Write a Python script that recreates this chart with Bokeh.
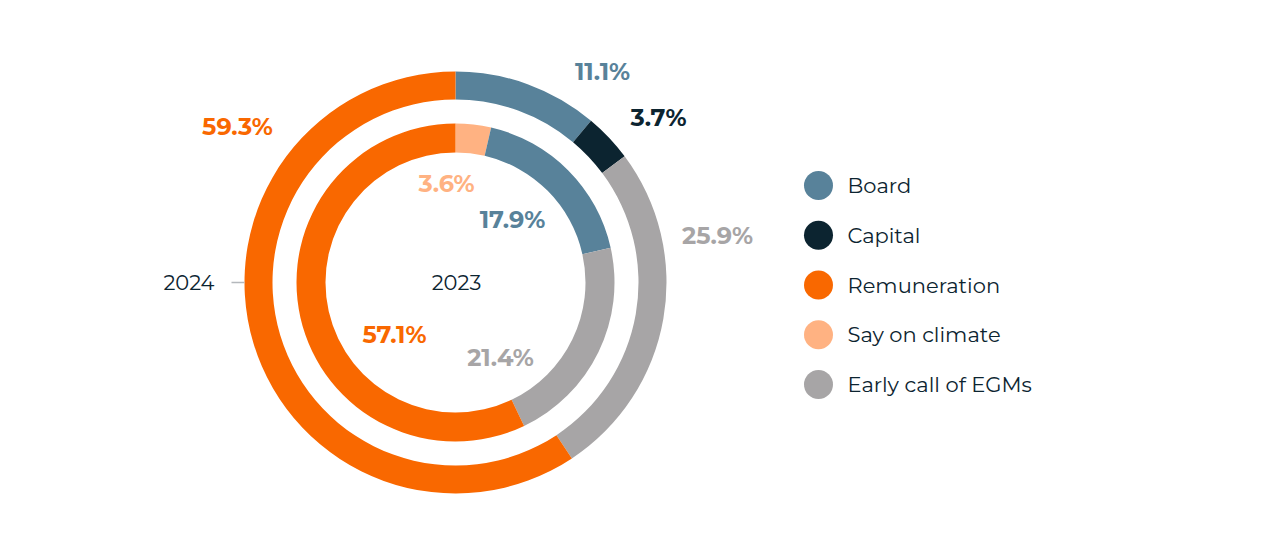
import math
from bokeh.plotting import figure
from bokeh.models import Range1d, ColumnDataSource
from bokeh.core.properties import value
from bokeh.embed import file_html
from bokeh.resources import INLINE

# ---- data ----
categories = ["Board", "Capital", "Remuneration", "Say on climate", "Early call of EGMs"]
colors = ["#58829a", "#0c2430", "#f96800", "#ffb282", "#a7a5a6"]

# 2024 (outer ring), clockwise from 12 o'clock
outer_cats = ["Board", "Capital", "Early call of EGMs", "Remuneration"]
outer_vals = [11.1, 3.7, 25.9, 59.3]
# 2023 (inner ring), clockwise from 12 o'clock
inner_cats = ["Say on climate", "Board", "Early call of EGMs", "Remuneration"]
inner_vals = [3.6, 17.9, 21.4, 57.1]

year_outer = "2024"
year_inner = "2023"

# ---- layout (pixels, page coordinates) ----
W, H = 1264, 532
FONT = "Montserrat, Inter"
TEXT_DARK = "#0c2430"
cx, cy = 455, H - 282
outer_r = (183, 211)
inner_r = (130, 159)
# label anchor (page px) for each slice
outer_label_pos = [(602, 71), (658, 117), (717, 235), (237, 126)]
inner_label_pos = [(446, 183), (512, 219), (500, 357), (394, 334)]

cmap = dict(zip(categories, colors))

p = figure(width=W, height=H, output_backend="svg", toolbar_location=None,
           x_range=Range1d(0, W), y_range=Range1d(0, H),
           min_border=0, min_border_left=0, min_border_right=0,
           min_border_top=0, min_border_bottom=0)
p.axis.visible = False
p.grid.visible = False
p.outline_line_color = None
p.background_fill_color = "white"
p.border_fill_color = "white"


def ring(cats, vals, radii, label_pos):
    total = sum(vals)
    starts, ends, cols, labels, lx, ly, lc = [], [], [], [], [], [], []
    cum = 0.0
    for c, v, (px, py) in zip(cats, vals, label_pos):
        a0 = math.pi / 2 - 2 * math.pi * (cum + v) / total
        a1 = math.pi / 2 - 2 * math.pi * cum / total
        starts.append(a0)
        ends.append(a1)
        cols.append(cmap[c])
        labels.append(f"{v:.1f}%")
        lx.append(px)
        ly.append(H - py)
        lc.append(cmap[c])
        cum += v
    src = ColumnDataSource(dict(start=starts, end=ends, color=cols))
    p.annular_wedge(x=cx, y=cy, inner_radius=radii[0], outer_radius=radii[1],
                    start_angle="start", end_angle="end", color="color",
                    line_color=None, source=src)
    lsrc = ColumnDataSource(dict(x=lx, y=ly, text=labels, color=lc))
    p.text(x="x", y="y", text="text", text_color="color", source=lsrc,
           text_align="center", text_baseline="middle",
           text_font=value(FONT), text_font_size="24px", text_font_style="bold")


ring(outer_cats, outer_vals, outer_r, outer_label_pos)
ring(inner_cats, inner_vals, inner_r, inner_label_pos)

# year labels
p.text(x=[cx + 1], y=[cy], text=[year_inner], text_align="center", text_baseline="middle",
       text_color=TEXT_DARK, text_font=value(FONT), text_font_size="21px")
p.text(x=[214], y=[cy], text=[year_outer], text_align="right", text_baseline="middle",
       text_color=TEXT_DARK, text_font=value(FONT), text_font_size="21px")
p.segment(x0=[231], y0=[cy], x1=[244], y1=[cy], line_color="#b4b8bc", line_width=1.5)

# legend
leg_x = 818
leg_y0 = 185
leg_dy = 49.75
lg_y = [H - (leg_y0 + i * leg_dy) for i in range(len(categories))]
p.scatter(x=[leg_x] * len(categories), y=lg_y, size=29, marker="circle",
          color=colors, line_color=None)
p.text(x=[847] * len(categories), y=lg_y, text=categories, text_align="left",
       text_baseline="middle", text_color=TEXT_DARK, text_font=value(FONT),
       text_font_size="21px")

open("out.html", "w").write(file_html(p, INLINE))
